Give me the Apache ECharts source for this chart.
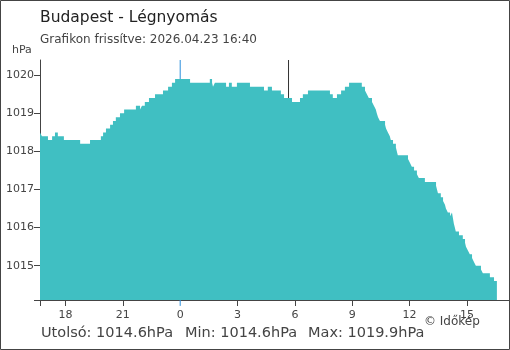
<!DOCTYPE html>
<html><head><meta charset="utf-8">
<script src="https://cdn.jsdelivr.net/npm/echarts@6/dist/echarts.min.js"></script>
<style>html,body{margin:0;padding:0;background:#fff}#c{width:510px;height:350px}</style>
</head><body><div id="c"></div>
<script>
// Data (time of the change, pressure in hPa)
const times = ["16:40","16:46","17:05","17:18","17:27","17:36","17:55","18:46","19:17","19:51","19:58","20:07","20:20","20:29","20:38","20:51","21:04","21:41","21:54","22:00","22:09","22:22","22:41","23:06","23:22","23:34","23:44",
"00:31","01:33","01:40","01:43","01:49","02:24","02:33","02:42","02:58","03:39","04:23","04:35","04:48","05:16","05:26","05:51","06:16","06:25","06:41","07:50","07:59","08:12","08:25","08:37","08:50","09:30","09:40","09:46","09:52","10:02","10:08","10:14","10:17","10:21","10:27","10:43","10:46","10:52","10:58","11:01","11:08","11:17","11:23","11:55","12:01","12:07","12:14","12:23","12:29","12:48","13:23","13:26","13:29","13:38","13:45","13:51","13:54","14:00","14:07","14:13","14:19","14:22","14:25","14:35","14:47","14:54","14:57","15:03","15:09","15:16","15:22","15:28","15:44","15:50","16:12","16:25","16:34"];
const pressure = [1018.5,1018.4,1018.3,1018.4,1018.5,1018.4,1018.3,1018.2,1018.3,1018.4,1018.5,1018.6,1018.7,1018.8,1018.9,1019.0,1019.1,1019.2,1019.1,1019.2,1019.3,1019.4,1019.5,1019.6,1019.7,1019.8,1019.9,
1019.8,1019.9,1019.8,1019.7,1019.8,1019.7,1019.8,1019.7,1019.8,1019.7,1019.6,1019.7,1019.6,1019.5,1019.4,1019.3,1019.4,1019.5,1019.6,1019.5,1019.4,1019.5,1019.6,1019.7,1019.8,1019.7,1019.6,1019.5,1019.4,1019.3,1019.2,1019.1,1019.0,1018.9,1018.8,1018.7,1018.6,1018.5,1018.4,1018.3,1018.2,1018.1,1017.9,1017.8,1017.7,1017.6,1017.5,1017.4,1017.3,1017.2,1017.1,1017.0,1016.9,1016.8,1016.7,1016.6,1016.5,1016.4,1016.3,1016.4,1016.1,1016.0,1015.9,1015.8,1015.7,1015.6,1015.5,1015.4,1015.3,1015.2,1015.1,1015.0,1014.9,1014.8,1014.7,1014.6,1014.6];
const xTickHours = [-6,-3,0,3,6,9,12,15];
const yTicks = [1015,1016,1017,1018,1019,1020];
const axisStartTime = "16:40";
const sunriseTime = "05:40";
const titleText = "Budapest - Légnyomás";
const subtitleText = "Grafikon frissítve: 2026.04.23 16:40";
const unitText = "hPa";
const statsText = ["Utolsó: 1014.6hPa", "Min: 1014.6hPa", "Max: 1019.9hPa"];
const copyrightText = "© Időkép";

function toH(s){const p=s.split(':');return +p[0]+ +p[1]/60;}
// hours relative to midnight (previous day negative)
let offset=-24, prev=-1;
const seriesData = times.map((t,i)=>{const h=toH(t); if(h<prev) offset=0; prev=h; return [h+offset, pressure[i]];});
const xMin = toH(axisStartTime)-24;
const xMax = 17.2;
const yMin = 1014.1, yMax = 1020.4;
const sunrise = toH(sunriseTime);
const FONT = '"DejaVu Sans", sans-serif';
const AX = '#444';

const chart = echarts.init(document.getElementById('c'), null, {renderer:'canvas'});
chart.setOption({
  animation:false,
  textStyle:{fontFamily:FONT},
  grid:{left:40, right:1, top:60, bottom:50, containLabel:false},
  xAxis:{type:'value', min:xMin, max:xMax, z:0,
    axisLine:{show:true, onZero:false, lineStyle:{color:AX, width:1}},
    axisTick:{show:true, length:6, lineStyle:{color:AX}, customValues:[xMin].concat(xTickHours.filter(v=>v!==0))},
    axisLabel:{customValues:xTickHours, color:'#444', fontSize:11, margin:10, fontFamily:FONT,
      formatter:v=>String(((Math.round(v)%24)+24)%24)},
    splitLine:{show:false}},
  yAxis:{type:'value', min:yMin, max:yMax, z:0,
    axisLine:{show:true, onZero:false, lineStyle:{color:AX, width:1}},
    axisTick:{show:true, length:6, lineStyle:{color:AX}, customValues:yTicks},
    axisLabel:{customValues:yTicks, color:'#444', fontSize:11, margin:6, fontFamily:FONT,
      formatter:v=>String(v)},
    splitLine:{show:false}},
  series:[
    {type:'line', z:1, clip:false, symbol:'none', silent:true,
     lineStyle:{color:'#2a8fdc', width:1},
     data:[[0,yMax],[0,yMin-0.155]]},
    {type:'line', z:1, clip:false, symbol:'none', silent:true,
     lineStyle:{color:'#333', width:1},
     data:[[sunrise,yMax],[sunrise,yMin]]},
    {type:'line', z:5, step:'end', symbol:'none', silent:true,
     lineStyle:{width:0, color:'#40bfc2'},
     areaStyle:{color:'#40bfc2', opacity:1, origin:'start'},
     data:seriesData}
  ],
  graphic:[
    {type:'rect', shape:{x:0.5,y:0.5,width:509,height:349}, style:{fill:'none', stroke:'#444', lineWidth:1}, z:10},
    {type:'line', shape:{x1:34,y1:300.5,x2:40,y2:300.5}, style:{stroke:AX, lineWidth:1}},
    {type:'text', left:40, top:10, style:{text:titleText, font:'15.5px '+FONT, fill:'#222'}},
    {type:'text', left:40, top:34, style:{text:subtitleText, font:'12px '+FONT, fill:'#444'}},
    {type:'text', left:12, top:45, style:{text:unitText, font:'11px '+FONT, fill:'#444'}},
    {type:'text', left:41, top:326, style:{text:statsText[0], font:'14.5px '+FONT, fill:'#444'}},
    {type:'text', left:185, top:326, style:{text:statsText[1], font:'14.5px '+FONT, fill:'#444'}},
    {type:'text', left:308, top:326, style:{text:statsText[2], font:'14.5px '+FONT, fill:'#444'}},
    {type:'text', left:424, top:316, style:{text:copyrightText, font:'12px '+FONT, fill:'#444'}}
  ]
});
</script></body></html>
